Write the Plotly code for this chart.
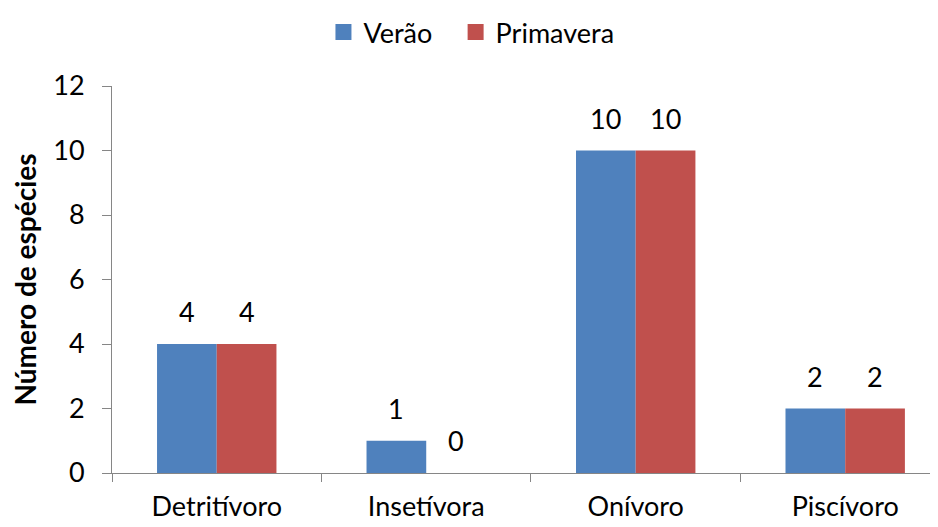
import plotly.graph_objects as go

categories = ["Detritívoro", "Insetívora", "Onívoro", "Piscívoro"]
verao = [4, 1, 10, 2]
primavera = [4, 0, 10, 2]
series_names = ["Verão", "Primavera"]
colors = ["#4F81BD", "#C0504D"]
y_ticks = [0, 2, 4, 6, 8, 10, 12]

FONT = "Lato, Carlito, Calibri, sans-serif"
FS = 27

fig = go.Figure()
for name, vals, col in zip(series_names, [verao, primavera], colors):
    fig.add_trace(go.Bar(
        x=categories, y=vals, name=name, showlegend=False,
        marker=dict(color=col, line=dict(width=0)),
    ))
# legend entries with larger square swatches (one legend box per series)
legend_ids = ["legend", "legend2"]
for name, col, lg in zip(series_names, colors, legend_ids):
    fig.add_trace(go.Scatter(
        x=[None], y=[None], mode="markers", name=name, legend=lg,
        marker=dict(symbol="square", size=17, color=col),
    ))

bargap = 0.43
cat_px = 209.5
bar_px = cat_px * (1 - bargap) / 2
for i, vals in enumerate([verao, primavera]):
    shift = (i - 0.5) * bar_px
    for c, v in zip(categories, vals):
        fig.add_annotation(
            x=c, y=v, text=str(v), showarrow=False,
            xshift=shift, yshift=14, yanchor="bottom",
            font=dict(size=FS, color="#000000", family=FONT),
        )

legend_style = dict(
    orientation="h", y=1.0, yanchor="top", xanchor="left",
    yref="container", font=dict(size=FS, family=FONT),
    itemsizing="trace", itemwidth=30, bgcolor="rgba(0,0,0,0)",
)

fig.update_layout(
    width=930, height=519,
    barmode="group", bargap=bargap, bargroupgap=0,
    plot_bgcolor="white", paper_bgcolor="white",
    margin=dict(l=104, r=0, t=78, b=54, pad=0),
    font=dict(family=FONT, size=FS, color="#000000"),
    showlegend=True,
    legend=dict(x=0.256, **legend_style),
    legend2=dict(x=0.416, **legend_style),
    xaxis=dict(
        range=[-0.5, 3.443], automargin=False,
        showline=True, linecolor="#868686", linewidth=1,
        ticks="outside", tickson="boundaries", ticklen=8, tickcolor="#868686",
        showgrid=False, tickfont=dict(size=FS, family=FONT),
        ticklabelstandoff=10,
    ),
    yaxis=dict(
        range=[0, 12], tickvals=y_ticks, automargin=False,
        showline=True, linecolor="#868686", linewidth=1,
        ticks="outside", ticklen=9, tickcolor="#868686",
        showgrid=False, zeroline=False,
        tickfont=dict(size=FS, family=FONT),
        ticklabelstandoff=12,
        title=dict(text="<b>Número de espécies</b>", font=dict(size=28, family=FONT), standoff=12),
    ),
)

fig.write_html("out.html")
